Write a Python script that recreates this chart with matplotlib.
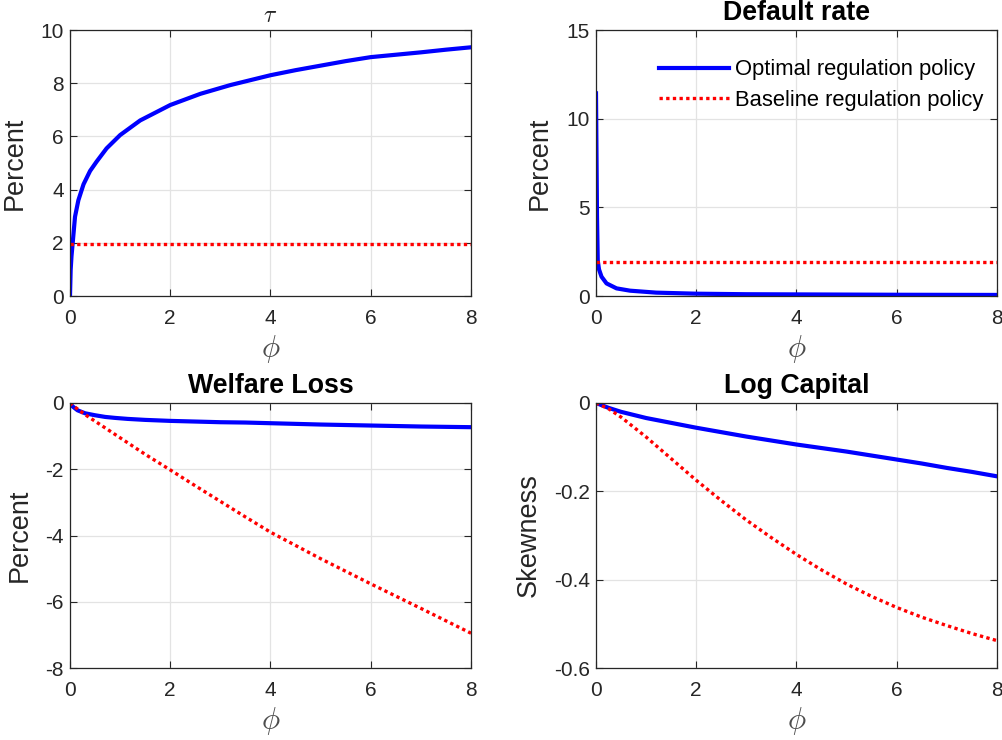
import matplotlib
matplotlib.use("Agg")
import matplotlib.pyplot as plt
from matplotlib.ticker import FuncFormatter

plt.rcParams['font.family'] = ['Liberation Sans', 'DejaVu Sans']
plt.rcParams['mathtext.fontset'] = 'cm'
plt.rcParams['axes.unicode_minus'] = False

# tau panel
phi_tau = [0, 0.013, 0.03, 0.053, 0.1, 0.167, 0.27, 0.4, 0.53, 0.73, 1.0, 1.4, 2.0, 2.6, 3.2,
           4.0, 4.5, 5, 5.5, 6, 6.5, 7, 7.5, 8]
tau_opt = [0, 0.98, 1.5, 1.98, 2.98, 3.6, 4.2, 4.7, 5.05, 5.55, 6.05, 6.6, 7.18, 7.6, 7.93,
           8.3, 8.49, 8.66, 8.83, 8.98, 9.07, 9.16, 9.26, 9.35]
phi_flat = [0, 8]
tau_base = [1.95, 1.95]

# default rate panel
phi_def = [0, 0.01, 0.02, 0.035, 0.06, 0.11, 0.21, 0.41, 0.68, 1.2, 2, 3, 4, 6, 8]
def_opt = [11.43, 8.0, 4.5, 2.0, 1.5, 1.09, 0.71, 0.43, 0.3, 0.19, 0.13, 0.1, 0.09, 0.07, 0.06]
def_base = [1.93, 1.93]

# welfare loss panel
phi_wel = [0, 0.05, 0.15, 0.3, 0.5, 0.7, 0.9, 1.15, 1.5, 2, 2.5, 3, 3.5, 4, 5, 6, 7, 8]
wel_opt = [0, -0.1, -0.22, -0.31, -0.37, -0.42, -0.45, -0.48, -0.51, -0.54, -0.56, -0.58,
           -0.59, -0.61, -0.65, -0.68, -0.71, -0.73]
wel_base = [0, -0.07, -0.18, -0.35, -0.55, -0.75, -0.95, -1.2, -1.55, -2.02, -2.5, -2.97,
            -3.44, -3.9, -4.7, -5.46, -6.2, -6.95]

# log capital skewness panel
phi_cap = [0, 0.25, 0.5, 1, 1.5, 2, 2.5, 3, 3.5, 4, 4.5, 5, 5.5, 6, 6.5, 7, 7.5, 8]
cap_opt = [0, -0.011, -0.02, -0.034, -0.045, -0.056, -0.066, -0.076, -0.085, -0.094, -0.102,
           -0.110, -0.119, -0.128, -0.137, -0.147, -0.156, -0.166]
cap_base = [0, -0.013, -0.032, -0.077, -0.126, -0.175, -0.221, -0.265, -0.305, -0.343, -0.378,
            -0.41, -0.438, -0.463, -0.485, -0.504, -0.522, -0.538]

dark = (0.15, 0.15, 0.15)
dotted = (0, (1, 1))

fig = plt.figure(figsize=(10.03, 7.4), dpi=100)
W, H = 1003, 740


def make_ax(x0, y_top, x1, y_bot):
    return fig.add_axes([x0 / W, (H - y_bot) / H, (x1 - x0) / W, (y_bot - y_top) / H])


ax1 = make_ax(70, 30, 471, 296)
ax2 = make_ax(596, 30, 997, 296)
ax3 = make_ax(70, 403, 471, 668)
ax4 = make_ax(596, 403, 997, 668)

fmt = FuncFormatter(lambda v, p: ('%g' % v).replace('\u2212', '-'))


def style(ax, yticks, ylim, ylabel, title, bold=True, label_x=-0.105, tpad=7):
    ax.set_xlim(0, 8)
    ax.set_ylim(*ylim)
    ax.set_xticks([0, 2, 4, 6, 8])
    ax.set_yticks(yticks)
    ax.yaxis.set_major_formatter(fmt)
    ax.grid(True, color='#e3e3e3', linewidth=0.9)
    ax.set_axisbelow(True)
    ax.tick_params(direction='in', top=True, right=True, length=5, width=0.8,
                   colors=dark, labelsize=15)
    ax.tick_params(axis='x', pad=9)
    ax.tick_params(axis='y', pad=4.5)
    for s in ax.spines.values():
        s.set_color(dark)
        s.set_linewidth(0.9)
    ax.set_ylabel(ylabel, fontsize=19.5, color=dark)
    ax.yaxis.set_label_coords(label_x, 0.5)
    ax.set_xlabel(r'$\phi$', fontsize=22, color=(0.3, 0.3, 0.3), labelpad=4)
    if bold:
        ax.set_title(title, fontsize=19.3, fontweight='bold', pad=tpad)
    else:
        ax.set_title(title, fontsize=17, pad=6, color=dark)


ax1.plot(phi_tau, tau_opt, color='blue', lw=3)
ax1.plot(phi_flat, tau_base, color='red', lw=2.4, linestyle=dotted)
style(ax1, [0, 2, 4, 6, 8, 10], (0, 10), 'Percent', r'$\tau$', bold=False, label_x=-0.105)

ax2.plot(phi_def, def_opt, color='blue', lw=3, label='Optimal regulation policy')
ax2.plot(phi_flat, def_base, color='red', lw=2.4, linestyle=dotted, label='Baseline regulation policy')
style(ax2, [0, 5, 10, 15], (0, 15), 'Percent', 'Default rate', label_x=-0.107, tpad=7)
ax2.legend(loc='upper right', bbox_to_anchor=(0.965, 0.89), frameon=False, fontsize=15.8,
           handlelength=3.2, handletextpad=0.25, borderpad=0, borderaxespad=0, labelspacing=0.45)

ax3.plot(phi_wel, wel_opt, color='blue', lw=3)
ax3.plot(phi_wel, wel_base, color='red', lw=2.4, linestyle=dotted)
style(ax3, [-8, -6, -4, -2, 0], (-8, 0), 'Percent', 'Welfare Loss', label_x=-0.092)

ax4.plot(phi_cap, cap_opt, color='blue', lw=3)
ax4.plot(phi_cap, cap_base, color='red', lw=2.4, linestyle=dotted)
style(ax4, [-0.6, -0.4, -0.2, 0], (-0.6, 0), 'Skewness', 'Log Capital', label_x=-0.135)

fig.savefig('out.png', dpi=100)
